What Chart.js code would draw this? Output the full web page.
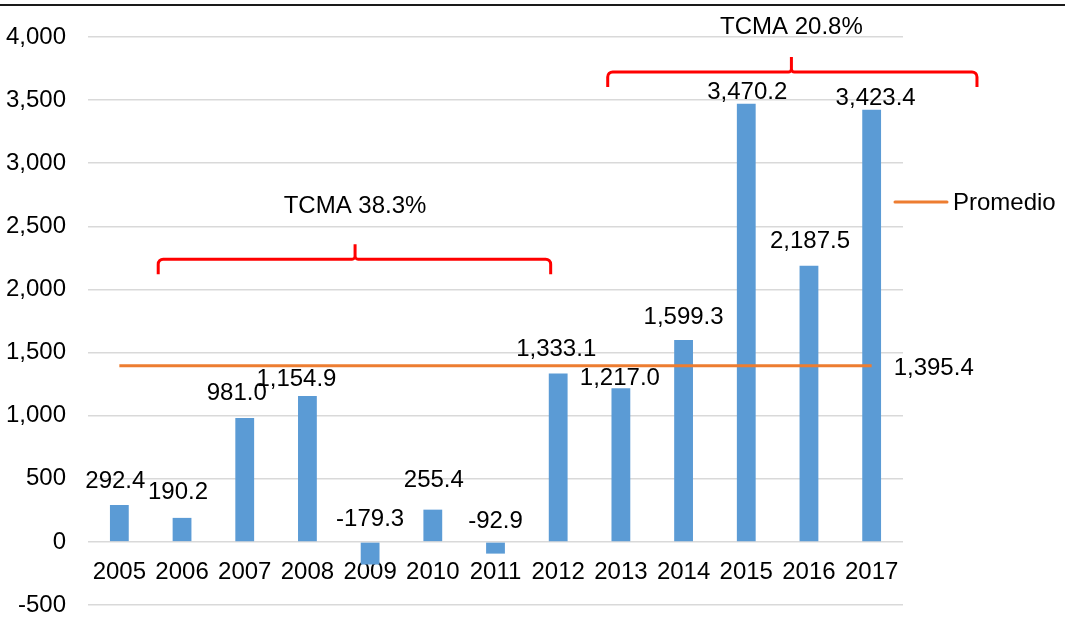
<!DOCTYPE html>
<html lang="es">
<head>
  <meta charset="UTF-8">
  <title>TCMA</title>
  <script src="https://cdn.jsdelivr.net/npm/chart.js"></script>
  <style>
    body { margin: 0; background: #fff; }
  </style>
</head>
<body>
<canvas id="tcmaChart" width="1065" height="618"></canvas>

<script>
  // datos
  var years = ['2005', '2006', '2007', '2008', '2009', '2010', '2011', '2012', '2013', '2014', '2015', '2016', '2017'];
  var values = [292.4, 190.2, 981.0, 1154.9, -179.3, 255.4, -92.9, 1333.1, 1217.0, 1599.3, 3470.2, 2187.5, 3423.4];
  var promedio = 1395.4;
  var yTicks = [-500, 0, 500, 1000, 1500, 2000, 2500, 3000, 3500, 4000];
  var tcmaTexts = ['TCMA 38.3%', 'TCMA 20.8%'];

  var FONT = '"Liberation Sans", Arial, sans-serif';
  var FSIZE = 24;

  function fmt(v, dec) {
    return v.toLocaleString('en-US', { minimumFractionDigits: dec, maximumFractionDigits: dec });
  }

  // label offsets (dx, dy) from the bar end, px
  var labelShift = [[-4, -24], [-4, -26], [-8, -25], [-11, -17], [0, -23], [1, -29], [0, -21],
                    [-2, -24], [-1, -10], [0, -23], [1, -11], [1, -24], [4, -11]];

  // braces: from index, to index, tip index, y value
  var braces = [
    { from: 0.62, to: 6.88, tip: 3.76, y: 2240, text: 0, textY: 2660 },
    { from: 7.79, to: 13.68, tip: 10.72, y: 3723, text: 1, textY: 4078 }
  ];

  var extras = {
    id: 'extras',
    afterDraw: function(chart) {
      var ctx = chart.ctx;
      var x = chart.scales.x, y = chart.scales.y;
      ctx.save();

      // top frame line
      ctx.fillStyle = '#1a1a1a';
      ctx.fillRect(0, 4, chart.width, 2);

      ctx.font = FSIZE + 'px ' + FONT;
      ctx.fillStyle = '#000';
      ctx.textAlign = 'center';
      ctx.textBaseline = 'middle';

      // bar labels
      var meta = chart.getDatasetMeta(0);
      meta.data.forEach(function(bar, i) {
        var v = values[i];
        var base = v >= 0 ? bar.y : y.getPixelForValue(0);
        ctx.fillText(fmt(v, 1), bar.x + labelShift[i][0], base + labelShift[i][1]);
      });

      // promedio value
      var lineMeta = chart.getDatasetMeta(1);
      var last = lineMeta.data[lineMeta.data.length - 1];
      ctx.textAlign = 'left';
      ctx.fillText(fmt(promedio, 1), last.x + 22, last.y + 3);

      // legend
      ctx.strokeStyle = '#ED7D31';
      ctx.lineWidth = 3;
      ctx.lineCap = 'round';
      ctx.beginPath();
      ctx.moveTo(895, 202);
      ctx.lineTo(947, 202);
      ctx.stroke();
      ctx.fillText('Promedio', 953, 203);

      // red braces
      ctx.strokeStyle = '#FF0000';
      ctx.lineWidth = 3;
      ctx.lineCap = 'butt';
      ctx.lineJoin = 'round';
      braces.forEach(function(b) {
        var x1 = x.getPixelForValue(b.from), x2 = x.getPixelForValue(b.to), xm = x.getPixelForValue(b.tip);
        var yy = y.getPixelForValue(b.y);
        var h = 15, r = 5;
        ctx.beginPath();
        ctx.moveTo(x1, yy + h);
        ctx.arcTo(x1, yy, x1 + r, yy, r);
        ctx.arcTo(xm, yy, xm, yy - h, 3);
        ctx.lineTo(xm, yy - h);
        ctx.moveTo(xm, yy - h);
        ctx.arcTo(xm, yy, xm + r, yy, 3);
        ctx.arcTo(x2, yy, x2, yy + h, r);
        ctx.lineTo(x2, yy + h);
        ctx.stroke();

        ctx.textAlign = 'center';
        ctx.fillText(tcmaTexts[b.text], xm, y.getPixelForValue(b.textY));
      });

      ctx.restore();
    }
  };

  var ctx = document.getElementById('tcmaChart').getContext('2d');
  new Chart(ctx, {
    type: 'bar',
    data: {
      labels: years,
      datasets: [{
        label: 'Valor',
        data: values,
        backgroundColor: '#5B9BD5',
        barPercentage: 0.3,
        categoryPercentage: 1,
        order: 2
      }, {
        type: 'line',
        label: 'Promedio',
        data: [{ x: years[0], y: promedio }, { x: years[years.length - 1], y: promedio }],
        borderColor: '#ED7D31',
        borderWidth: 3,
        pointRadius: 0,
        order: 1
      }]
    },
    options: {
      responsive: false,
      animation: false,
      layout: { padding: { top: 37, right: 162, bottom: 13, left: 0 } },
      plugins: {
        legend: { display: false },
        tooltip: { enabled: false }
      },
      scales: {
        x: {
          position: { y: 0 },
          grid: { display: false },
          border: { display: false },
          ticks: {
            color: '#000',
            padding: 8,
            maxRotation: 0,
            font: { family: FONT, size: FSIZE }
          },
          afterFit: function(scale) { scale.height = 0; }
        },
        y: {
          min: -500,
          max: 4000,
          afterBuildTicks: function(scale) {
            scale.ticks = yTicks.map(function(v) { return { value: v }; });
          },
          grid: { color: '#D9D9D9', lineWidth: 1.5, drawTicks: false },
          border: { display: false },
          ticks: {
            color: '#000',
            padding: 22,
            font: { family: FONT, size: FSIZE },
            callback: function(v) { return fmt(v, 0); }
          },
          afterFit: function(scale) {
            scale.width = 88;
            scale.paddingTop = 0;
            scale.paddingBottom = 0;
          }
        }
      }
    },
    plugins: [extras]
  });
</script>
</body>
</html>
